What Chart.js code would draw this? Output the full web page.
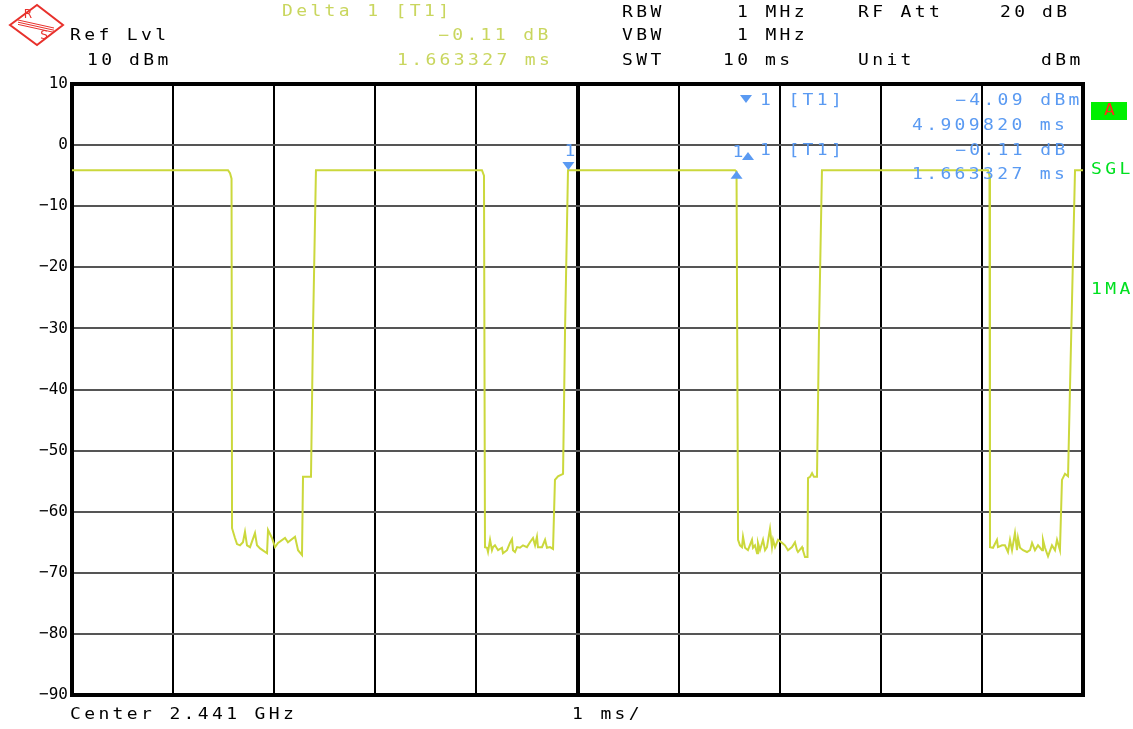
<!DOCTYPE html>
<html>
<head>
<meta charset="utf-8">
<script src="https://cdn.jsdelivr.net/npm/chart.js@4.4.1/dist/chart.umd.min.js"></script>
<style>
  html, body { margin: 0; padding: 0; background: #fff; }
</style>
</head>
<body>
<canvas id="myChart" width="1133" height="729"></canvas>
<script>
// sweep trace, time in ms, level in dBm
var timeMs = [
  0, 1.543, 1.563, 1.578, 1.583, 1.612, 1.632, 1.662, 1.691, 1.711, 1.731, 1.761, 1.810, 1.830, 1.860,
  1.929, 1.939, 1.978, 2.008, 2.038, 2.107, 2.136, 2.206, 2.236, 2.275, 2.285, 2.364, 2.384, 2.413,
  4.055, 4.075, 4.085, 4.105, 4.115, 4.135, 4.154, 4.164, 4.184, 4.214, 4.253, 4.263, 4.303, 4.332,
  4.352, 4.362, 4.382, 4.402, 4.431, 4.461, 4.500, 4.530, 4.560, 4.580, 4.599, 4.609, 4.649, 4.679,
  4.698, 4.728, 4.758, 4.777, 4.807, 4.857, 4.877, 4.906,
  6.558, 6.573, 6.588, 6.607, 6.627, 6.637, 6.657, 6.686, 6.726, 6.736, 6.756, 6.776, 6.785, 6.805,
  6.835, 6.855, 6.874, 6.904, 6.924, 6.934, 6.954, 6.983, 7.023, 7.052, 7.082, 7.122, 7.151, 7.171,
  7.181, 7.221, 7.230, 7.250, 7.275, 7.280, 7.300, 7.320, 7.339, 7.369, 7.389, 7.418,
  9.060, 9.075, 9.080, 9.110, 9.149, 9.159, 9.199, 9.228, 9.258, 9.278, 9.298, 9.327, 9.347, 9.357,
  9.377, 9.407, 9.446, 9.476, 9.496, 9.525, 9.555, 9.595, 9.604, 9.624, 9.654, 9.693, 9.723, 9.743,
  9.772, 9.792, 9.822, 9.852, 9.871, 9.921, 10
];
var levelDbm = [
  -4.1, -4.1, -4.6, -5.5, -62.7, -64.3, -65.3, -65.5, -65.0, -63.3, -65.5, -65.8, -63.5, -65.5, -66.0,
  -66.8, -63.0, -64.3, -65.8, -65.1, -64.3, -65.0, -64.1, -66.3, -67.1, -54.3, -54.3, -30, -4.1,
  -4.1, -5.0, -65.8, -65.9, -66.6, -64.6, -66.3, -65.8, -65.5, -66.3, -65.9, -66.8, -66.3, -65.1,
  -64.5, -66.3, -66.6, -65.8, -65.9, -65.5, -65.8, -65.0, -64.3, -65.5, -64.1, -65.8, -65.8, -64.6,
  -65.9, -65.8, -66.1, -54.8, -54.2, -53.8, -30, -4.1,
  -4.1, -4.3, -64.6, -65.5, -65.8, -64.1, -65.9, -66.3, -64.6, -65.9, -65.5, -66.8, -65.1, -66.3,
  -64.6, -66.3, -65.8, -62.8, -65.8, -64.6, -65.8, -64.6, -65.1, -65.5, -66.3, -65.8, -65.0, -66.3,
  -66.6, -65.8, -66.3, -67.4, -67.4, -54.5, -54.3, -53.7, -54.3, -54.3, -30, -4.1,
  -4.1, -5.0, -65.8, -65.9, -64.6, -65.8, -65.5, -65.5, -66.6, -64.6, -66.3, -63.5, -66.3, -64.3,
  -65.9, -66.3, -66.6, -66.3, -65.1, -66.3, -65.5, -66.3, -64.6, -65.9, -67.3, -65.5, -66.3, -64.6,
  -66.3, -54.8, -53.8, -54.2, -40, -4.1, -4.1
];

// markers
var markerTime = [4.909820];
var markerLevel = [-4.09];
var deltaTime = [4.909820 + 1.663327];
var deltaLevel = [-4.09 - 0.11];

var yMin = -90, yMax = 10, yStep = 10;
var xMin = 0, xMax = 10, xStep = 1;

var traceColor = '#cbd83c';
var yellowText = '#c9d65e';
var blue = '#5a9af2';
var green = '#00e020';
var monoFont = '15px "DejaVu Sans Mono", "Liberation Mono", monospace';
var step = 14.2;

// header / annotation text
var texts = [
  ['Delta 1 [T1]', 282, 12, yellowText],
  ['RBW', 622, 13, '#000'], ['1 MHz', 737, 13, '#000'], ['RF Att', 858, 13, '#000'],
  ['20', 1000, 13, '#000'], ['dB', 1042, 13, '#000'],
  ['Ref Lvl', 70, 36, '#000'], ['\u22120.11 dB', 438, 36, yellowText],
  ['VBW', 622, 36, '#000'], ['1 MHz', 737, 36, '#000'],
  ['10', 87, 61, '#000'], ['dBm', 129, 61, '#000'], ['1.663327 ms', 397, 61, yellowText],
  ['SWT', 622, 61, '#000'], ['10', 723, 61, '#000'], ['ms', 765, 61, '#000'],
  ['Unit', 858, 61, '#000'], ['dBm', 1041, 61, '#000'],
  ['1 [T1]', 760, 101, blue], ['\u22124.09 dBm', 955, 101, blue], ['4.909820 ms', 912, 126, blue],
  ['1 [T1]', 760, 151, blue], ['\u22120.11 dB', 955, 151, blue], ['1.663327 ms', 912, 175, blue],
  ['SGL', 1091, 170, green], ['1MA', 1091, 290, green],
  ['Center 2.441 GHz', 70, 715, '#000'], ['1 ms/', 572, 715, '#000']
];

// draw text one cell per character, glyphs widened like the instrument font
function mono(c, str, x, y, color) {
  c.fillStyle = color;
  for (var i = 0; i < str.length; i++) {
    c.save();
    c.translate(x + i * step, y);
    c.scale(1.2, 1);
    c.fillText(str[i], 0, 0);
    c.restore();
  }
}

function tri(c, x, y, down) {
  c.beginPath();
  if (down) { c.moveTo(x - 6, y - 8); c.lineTo(x + 6, y - 8); c.lineTo(x, y); }
  else { c.moveTo(x - 6, y + 8); c.lineTo(x + 6, y + 8); c.lineTo(x, y); }
  c.closePath();
  c.fill();
}

var analyzerPlugin = {
  id: 'analyzer',
  beforeDraw: function (chart) {
    var c = chart.ctx;
    c.save();
    c.fillStyle = '#fff';
    c.fillRect(0, 0, chart.width, chart.height);
    c.restore();
  },
  beforeDatasetsDraw: function (chart) {
    var c = chart.ctx, a = chart.chartArea;
    c.save();
    c.strokeStyle = '#000';
    c.lineWidth = 4;
    c.strokeRect(a.left, a.top, a.right - a.left, a.bottom - a.top);
    c.restore();
  },
  afterDraw: function (chart) {
    var c = chart.ctx;
    var xs = chart.scales.x, ys = chart.scales.y;
    c.save();
    c.font = monoFont;
    c.textBaseline = 'middle';
    c.textAlign = 'left';
    texts.forEach(function (t) { mono(c, t[0], t[1], t[2], t[3]); });

    // R&S logo
    c.strokeStyle = '#e8312c';
    c.fillStyle = '#e8312c';
    c.lineWidth = 2;
    c.beginPath();
    c.moveTo(10, 25); c.lineTo(37, 5); c.lineTo(63, 25); c.lineTo(37, 45); c.closePath();
    c.stroke();
    c.lineWidth = 1;
    for (var k = 0; k < 3; k++) {
      c.beginPath();
      c.moveTo(18, 20 + k * 2.2); c.lineTo(54, 28 + k * 2.2);
      c.stroke();
    }
    c.font = '12px "DejaVu Sans", sans-serif';
    c.textAlign = 'center';
    c.fillText('R', 28, 15);
    c.fillText('S', 44, 36);

    // A box
    c.fillStyle = '#00f000';
    c.fillRect(1091, 102, 36, 18);
    c.font = monoFont;
    c.textAlign = 'left';
    mono(c, 'A', 1104, 111, '#ff2a1a');

    // marker legend glyphs
    c.fillStyle = blue;
    tri(c, 746, 103, true);
    tri(c, 748, 152, false);

    // marker 1 and delta marker on the trace
    var mx = xs.getPixelForValue(markerTime[0]), my = ys.getPixelForValue(markerLevel[0]);
    tri(c, mx, my, true);
    mono(c, '1', mx - 4, my - 18, blue);
    var dx = xs.getPixelForValue(deltaTime[0]), dy = ys.getPixelForValue(deltaLevel[0]);
    c.fillStyle = blue;
    tri(c, dx, dy, false);
    mono(c, '1', dx - 4, dy - 18, blue);
    c.restore();
  }
};

var ctx = document.getElementById('myChart').getContext('2d');
var points = timeMs.map(function (t, i) { return { x: t, y: levelDbm[i] }; });

var myChart = new Chart(ctx, {
  type: 'line',
  data: {
    datasets: [{
      data: points,
      borderColor: traceColor,
      borderWidth: 2,
      pointRadius: 0,
      tension: 0,
      fill: false
    }]
  },
  options: {
    responsive: false,
    animation: false,
    devicePixelRatio: 1,
    layout: { padding: { left: 0, right: 50, top: 84, bottom: 34 } },
    plugins: { legend: { display: false }, tooltip: { enabled: false } },
    scales: {
      x: {
        type: 'linear', min: xMin, max: xMax,
        ticks: { display: false, stepSize: xStep },
        grid: {
          color: '#000',
          lineWidth: function (c) { return c.tick && c.tick.value === 5 ? 4 : 2; },
          drawTicks: false
        },
        border: { display: false },
        afterFit: function (s) { s.height = 0; }
      },
      y: {
        min: yMin, max: yMax,
        ticks: {
          stepSize: yStep, color: '#000', padding: 4,
          font: { family: '"DejaVu Sans Mono", monospace', size: 16 },
          callback: function (v) { return String(v).replace('-', '\u2212'); }
        },
        grid: { color: '#555', lineWidth: 2, drawTicks: false },
        border: { display: false },
        afterFit: function (s) { s.width = 72; }
      }
    }
  },
  plugins: [analyzerPlugin]
});
</script>
</body>
</html>
